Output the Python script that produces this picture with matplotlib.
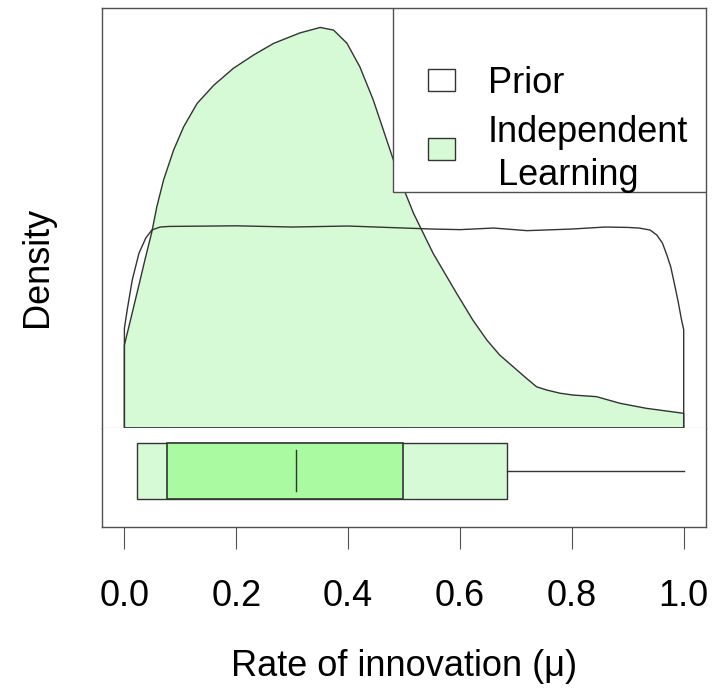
import matplotlib
matplotlib.use("Agg")
import matplotlib.pyplot as plt
from matplotlib.patches import Rectangle

plt.rcParams.update({
    "font.family": ["Liberation Sans", "DejaVu Sans"],
    "font.size": 26,
})

# posterior density (independent learning)
post_mu = [0.0, 0.012, 0.025, 0.037, 0.049, 0.058, 0.070, 0.088, 0.106, 0.130,
           0.160, 0.195, 0.231, 0.267, 0.314, 0.35, 0.374, 0.398, 0.421, 0.445,
           0.469, 0.493, 0.517, 0.552, 0.594, 0.623, 0.648, 0.671, 0.695, 0.719,
           0.737, 0.755, 0.779, 0.802, 0.844, 0.886, 0.933, 1.0]
post_dens = [0.413, 0.55, 0.70, 0.84, 0.975, 1.101, 1.234, 1.383, 1.499, 1.615,
             1.706, 1.790, 1.856, 1.914, 1.966, 1.993, 1.980, 1.914, 1.797, 1.632,
             1.433, 1.234, 1.068, 0.869, 0.670, 0.537, 0.438, 0.363, 0.305, 0.247,
             0.205, 0.189, 0.173, 0.164, 0.156, 0.123, 0.098, 0.073]

# prior density (uniform, smoothed at the edges)
prior_mu = [0.0, 0.005, 0.014, 0.026, 0.038, 0.049, 0.064, 0.08, 0.2, 0.3, 0.4,
            0.5, 0.55, 0.6, 0.66, 0.72, 0.8, 0.86, 0.9, 0.92, 0.94, 0.952, 0.962,
            0.970, 0.977, 0.984, 0.990, 0.996, 1.0]
prior_dens = [0.496, 0.587, 0.736, 0.869, 0.944, 0.985, 1.0, 1.003, 1.006, 1.0,
              1.005, 0.995, 0.99, 0.987, 0.995, 0.982, 0.99, 1.0, 0.998, 0.995,
              0.985, 0.96, 0.92, 0.86, 0.80, 0.71, 0.63, 0.54, 0.49]

# summary of the posterior for the box
outer_lo, outer_hi = 0.0226, 0.684
inner_lo, inner_hi = 0.0759, 0.4976
median = 0.3076
whisker_hi = 1.0

ticks = [0.0, 0.2, 0.4, 0.6, 0.8, 1.0]

LINE = "#333333"
FRAME = "#505050"
LIGHT = "#d6fad6"
DARK = "#aafaa2"

fig = plt.figure(figsize=(7.19, 6.99), dpi=100)
ax = fig.add_axes([0.1419, 0.3877, 0.8401, 0.6009])
bx = fig.add_axes([0.1419, 0.2461, 0.8401, 0.1416], sharex=ax)

# density panel
ax.fill([0.0] + post_mu + [1.0], [0.0] + post_dens + [0.0],
        facecolor=LIGHT, edgecolor=LINE, linewidth=1.0, zorder=2)
ax.fill([0.0] + prior_mu + [1.0], [0.0] + prior_dens + [0.0],
        facecolor="none", edgecolor=LINE, linewidth=1.0, zorder=3)
ax.set_xlim(-0.04, 1.04)
ax.set_ylim(0, 2.09)
ax.set_yticks([])
ax.tick_params(axis="x", bottom=False, labelbottom=False)
for s in ["top", "left", "right"]:
    ax.spines[s].set_color(FRAME)
    ax.spines[s].set_linewidth(1.0)
ax.spines["bottom"].set_color("#d8d8d8")
ax.spines["bottom"].set_linewidth(1.0)

# legend drawn by hand, R style
ax.add_patch(Rectangle((0.482, 0.562), 0.518, 0.438, transform=ax.transAxes,
                       facecolor="white", edgecolor=FRAME, linewidth=1.0,
                       zorder=5))
ax.add_patch(Rectangle((0.540, 0.802), 0.044, 0.053, transform=ax.transAxes,
                       facecolor="white", edgecolor=LINE, linewidth=1.0, zorder=6))
ax.add_patch(Rectangle((0.540, 0.638), 0.044, 0.053, transform=ax.transAxes,
                       facecolor=LIGHT, edgecolor=LINE, linewidth=1.0, zorder=6))
ax.text(0.639, 0.797, "Prior", transform=ax.transAxes, ha="left",
        va="baseline", zorder=7)
ax.text(0.639, 0.681, "Independent", transform=ax.transAxes, ha="left",
        va="baseline", zorder=7)
ax.text(0.639, 0.578, " Learning", transform=ax.transAxes, ha="left",
        va="baseline", zorder=7)

# box panel
yc, half, med_half = 0.566, 0.283, 0.207
bx.add_patch(Rectangle((outer_lo, yc - half), outer_hi - outer_lo, 2 * half,
                       facecolor=LIGHT, edgecolor=LINE, linewidth=1.0, zorder=2))
bx.add_patch(Rectangle((inner_lo, yc - half), inner_hi - inner_lo, 2 * half,
                       facecolor=DARK, edgecolor=LINE, linewidth=1.2, zorder=3))
bx.plot([median, median], [yc - med_half, yc + med_half], color=LINE,
        linewidth=1.0, zorder=4)
bx.plot([outer_hi, whisker_hi], [yc, yc], color=LINE, linewidth=1.0, zorder=2)
bx.set_ylim(0, 1)
bx.set_yticks([])
bx.set_xticks(ticks)
bx.set_xticklabels([f"{t:.1f}" for t in ticks])
bx.tick_params(axis="x", direction="out", length=15.8, width=0.8,
               color=FRAME, pad=22, labelsize=26)
for s in ["bottom", "left", "right"]:
    bx.spines[s].set_color(FRAME)
    bx.spines[s].set_linewidth(1.0)
bx.spines["top"].set_visible(False)

fig.text(404 / 719, 1 - 667 / 699, "Rate of innovation (\u03bc)",
         ha="center", va="center", fontsize=26)
fig.text(37 / 719, 1 - 267 / 699, "Density", rotation=90,
         ha="center", va="center", fontsize=26)

fig.savefig("out.png", dpi=100, facecolor="white")
